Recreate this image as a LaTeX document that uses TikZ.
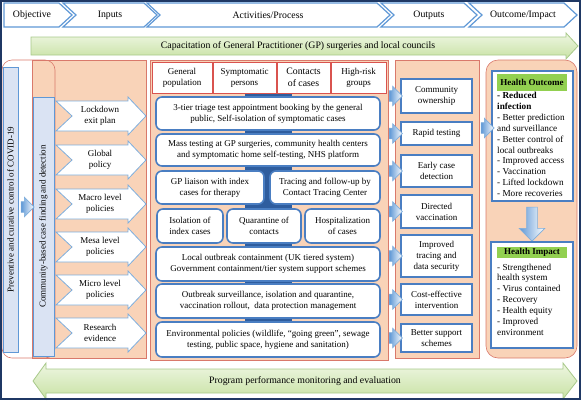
\documentclass[tikz,border=0pt]{standalone}
\usepackage{fontspec}
\setmainfont{Liberation Serif}
\usetikzlibrary{shapes.arrows}
\definecolor{peach}{HTML}{F9D3B8}
\definecolor{panelred}{HTML}{D9796B}
\definecolor{popred}{HTML}{D9534F}
\definecolor{boxblue}{HTML}{4A7EC2}
\definecolor{pipeblue}{HTML}{2F5D9E}
\definecolor{lineblue}{HTML}{7FAEDC}
\definecolor{arrowblue}{HTML}{5F98D6}
\definecolor{sidefill}{HTML}{DAE3F3}
\definecolor{greenA}{HTML}{EEF6E2}
\definecolor{greenB}{HTML}{C8E2A4}
\definecolor{greenline}{HTML}{A8C98A}
\definecolor{titlegreen}{HTML}{92D050}
\definecolor{framenavy}{HTML}{1F3864}
\begin{document}
\begin{tikzpicture}[
     x=1pt,y=-1pt,
     every node/.style={font=\fontsize{9}{11}\selectfont,align=center},
     hdr/.style={font=\fontsize{9.8}{11}\selectfont},
     big/.style={font=\fontsize{9.8}{12}\selectfont},
     panel/.style={fill=peach,draw=panelred,line width=0.6pt},
     chevron/.style={draw=arrowblue,fill=white,line width=1.2pt},
     sidebox/.style={draw=arrowblue,fill=sidefill,line width=0.8pt,inner sep=0pt},
     inarrow/.style={draw=lineblue,fill=white,line width=0.8pt},
     popbox/.style={draw=popred,fill=white,line width=0.8pt,inner sep=1pt},
     actbox/.style={draw=boxblue,fill=white,line width=1.6pt,rounded corners=6pt,inner sep=1pt},
     outbox/.style={draw=boxblue,fill=white,line width=1.6pt,inner sep=1pt,minimum width=71pt},
     blockarrow/.style={single arrow,draw=lineblue,left color=arrowblue,right color=white,line width=0.6pt,
       inner xsep=0pt,inner ysep=5pt,minimum height=13pt,single arrow head extend=4.5pt},
     greenarrow/.style={draw=greenline,top color=greenA,bottom color=greenB,line width=0.8pt},
     titlebar/.style={fill=titlegreen,font=\fontsize{9}{11}\selectfont\bfseries,minimum width=70pt,inner sep=0pt},
     listtext/.style={align=left,anchor=north west,inner sep=0pt,font=\fontsize{9.2}{10.9}\selectfont}
   ]
   \path[use as bounding box] (0,0) rectangle (581,400);
   % Header chevrons.
   \foreach \xa/\xb/\nd/\xt/\nm/\txt in {4/72/0/32/obj/Objective, 63/157/13/110/inp/Inputs,
       147/390/13/268/act/{Activities/Process}, 381/477/13/429/out/Outputs, 469/577/13/523/imp/{Outcome/Impact}}{
     \draw[chevron] (\xa,3) -- (\xb-13,3) -- (\xb,15) -- (\xb-13,27) -- (\xa,27) -- (\xa+\nd,15) -- cycle;
     \node[hdr] (hdr-\nm) at (\xt,15) {\txt};
   }
   % Capacitation arrow.
   \draw[greenarrow] (31,37) -- (566,37) -- (566,33) -- (578,46) -- (566,59) -- (566,55) -- (31,55) -- cycle;
   \node[big] (capac) at (298,46) {Capacitation of General Practitioner (GP) surgeries and local councils};
   % Objective and inputs.
   \draw[panel] (32,60) rectangle (146,358);
   \draw[panelred,line width=0.6pt,rounded corners=10pt] (2,60) rectangle (55,358);
   \node[sidebox,rotate=90,minimum width=285pt,minimum height=15pt] (prevent) at (10.5,209.5)
     {Preventive and curative control of COVID-19};
   \node[sidebox,rotate=90,minimum width=259pt,minimum height=21pt] (community) at (43.5,226.5)
     {Community-based case finding and detection};
   \node[blockarrow] (toinput) at (25,207) {};
   \foreach \yc/\nm/\txt in {116/lock/{Lockdown\\exit plan}, 160/glob/{Global\\policy},
       204/macro/{Macro level\\policies}, 247/mesa/{Mesa level\\policies},
       290/micro/{Micro level\\policies}, 333/res/{Research\\evidence}}{
     \draw[inarrow] (56,\yc-15) -- (128,\yc-15) -- (128,\yc-19) -- (146,\yc) -- (128,\yc+19)
       -- (128,\yc+15) -- (56,\yc+15) -- (72,\yc) -- cycle;
     \node (in-\nm) at (100,\yc) {\txt};
   }
   % Activities.
   \draw[panel] (150,60) rectangle (388,360);
   \fill[pipeblue] (245,93) rectangle (292,322);
   \node[popbox,minimum width=60pt,minimum height=31pt] (genpop) at (182,77.5) {General\\population};
   \node[popbox,minimum width=63pt,minimum height=31pt] (symp) at (244.5,77.5) {Symptomatic\\persons};
   \node[popbox,big,minimum width=53pt,minimum height=31pt] (contacts) at (303.5,77.5) {Contacts\\of cases};
   \node[popbox,minimum width=55pt,minimum height=31pt] (highrisk) at (358.5,77.5) {High-risk\\groups};
   \node[actbox,minimum width=224pt,minimum height=33pt] (triage) at (268,113.5)
     {3-tier triage test appointment booking by the general\\public, Self-isolation of symptomatic cases};
   \node[actbox,minimum width=224pt,minimum height=32pt] (mass) at (268,150)
     {Mass testing at GP surgeries, community health centers\\and symptomatic home self-testing, NHS platform};
   \node[actbox,minimum width=108pt,minimum height=33pt] (liaison) at (210,187.5) {GP liaison with index\\cases for therapy};
   \node[actbox,minimum width=110pt,minimum height=33pt] (tracing) at (325,187.5) {Tracing and follow-up by\\Contact Tracing Center};
   \node[actbox,minimum width=66pt,minimum height=34pt] (isolation) at (190,226) {Isolation of\\index cases};
   \node[actbox,minimum width=74pt,minimum height=34pt] (quarantine) at (264,226) {Quarantine of\\contacts};
   \node[actbox,minimum width=75pt,minimum height=34pt] (hospital) at (342.5,226) {Hospitalization\\of cases};
   \node[actbox,minimum width=224pt,minimum height=34pt] (localout) at (268,264)
     {Local outbreak containment (UK tiered system)\\Government containment/tier system support schemes};
   \node[actbox,minimum width=224pt,minimum height=34pt] (surveil) at (268,301)
     {Outbreak surveillance, isolation and quarantine,\\vaccination rollout,\ \ data protection management};
   \node[actbox,minimum width=224pt,minimum height=35pt] (environ) at (268,339.5)
     {Environmental policies (wildlife, “going green”, sewage\\testing, public space, hygiene and sanitation)};
   % Outputs.
   \draw[panel] (395,60) rectangle (479,358);
   \foreach \yc/\bh/\txt [count=\i] in {96/34/{Community\\ownership}, 133.5/23/{Rapid testing},
       171/32/{Early case\\detection}, 211.5/33/{Directed\\vaccination},
       256/42/{Improved\\tracing and\\data security}, 299.5/31/{Cost-effective\\intervention},
       338/28/{Better support\\schemes}}{
     \node[outbox,minimum height=\bh pt] (out\i) at (436.5,\yc) {\txt};
     \node[blockarrow] (toout\i) at ([xshift=-7pt]out\i.west) {};
   }
   % Outcome and impact.
   \draw[panel,rounded corners=12pt] (486,60) rectangle (577,358);
   \node[outbox,minimum width=81pt,minimum height=130pt] (hobox) at (532.5,136) {};
   \node[titlebar,minimum height=17pt] (hotitle) at (532,82.5) {Health Outcome};
   \node[listtext] (holist) at (497,92)
     {\textbf{- Reduced}\\\textbf{infection}\\- Better prediction\\and surveillance\\- Better control of\\local outbreaks\\- Improved access\\- Vaccination\\- Lifted lockdown\\- More recoveries};
   \node[blockarrow] (tooutcome) at (485,128) {};
   \node[blockarrow,rotate=-90,minimum height=34pt,inner ysep=5pt,single arrow head extend=7.5pt] (toimpact) at (532,221.5) {};
   \node[outbox,minimum width=82pt,minimum height=106pt] (hibox) at (532,295) {};
   \node[titlebar,minimum height=11pt] (hititle) at (532,252) {Health Impact};
   \node[listtext] (hilist) at (497,263.5)
     {- Strengthened\\health system\\- Virus contained\\- Recovery\\- Health equity\\- Improved\\environment};
   % Monitoring arrow.
   \draw[greenarrow] (33,381) -- (46,363) -- (46,369) -- (563,369) -- (563,363) -- (577,381)
     -- (563,399) -- (563,393) -- (46,393) -- (46,399) -- cycle;
   \node[big] (monitor) at (305,381) {Program performance monitoring and evaluation};
   \draw[framenavy,line width=1.5pt] (1,1) rectangle (580,399);
 \end{tikzpicture}
\end{document}
